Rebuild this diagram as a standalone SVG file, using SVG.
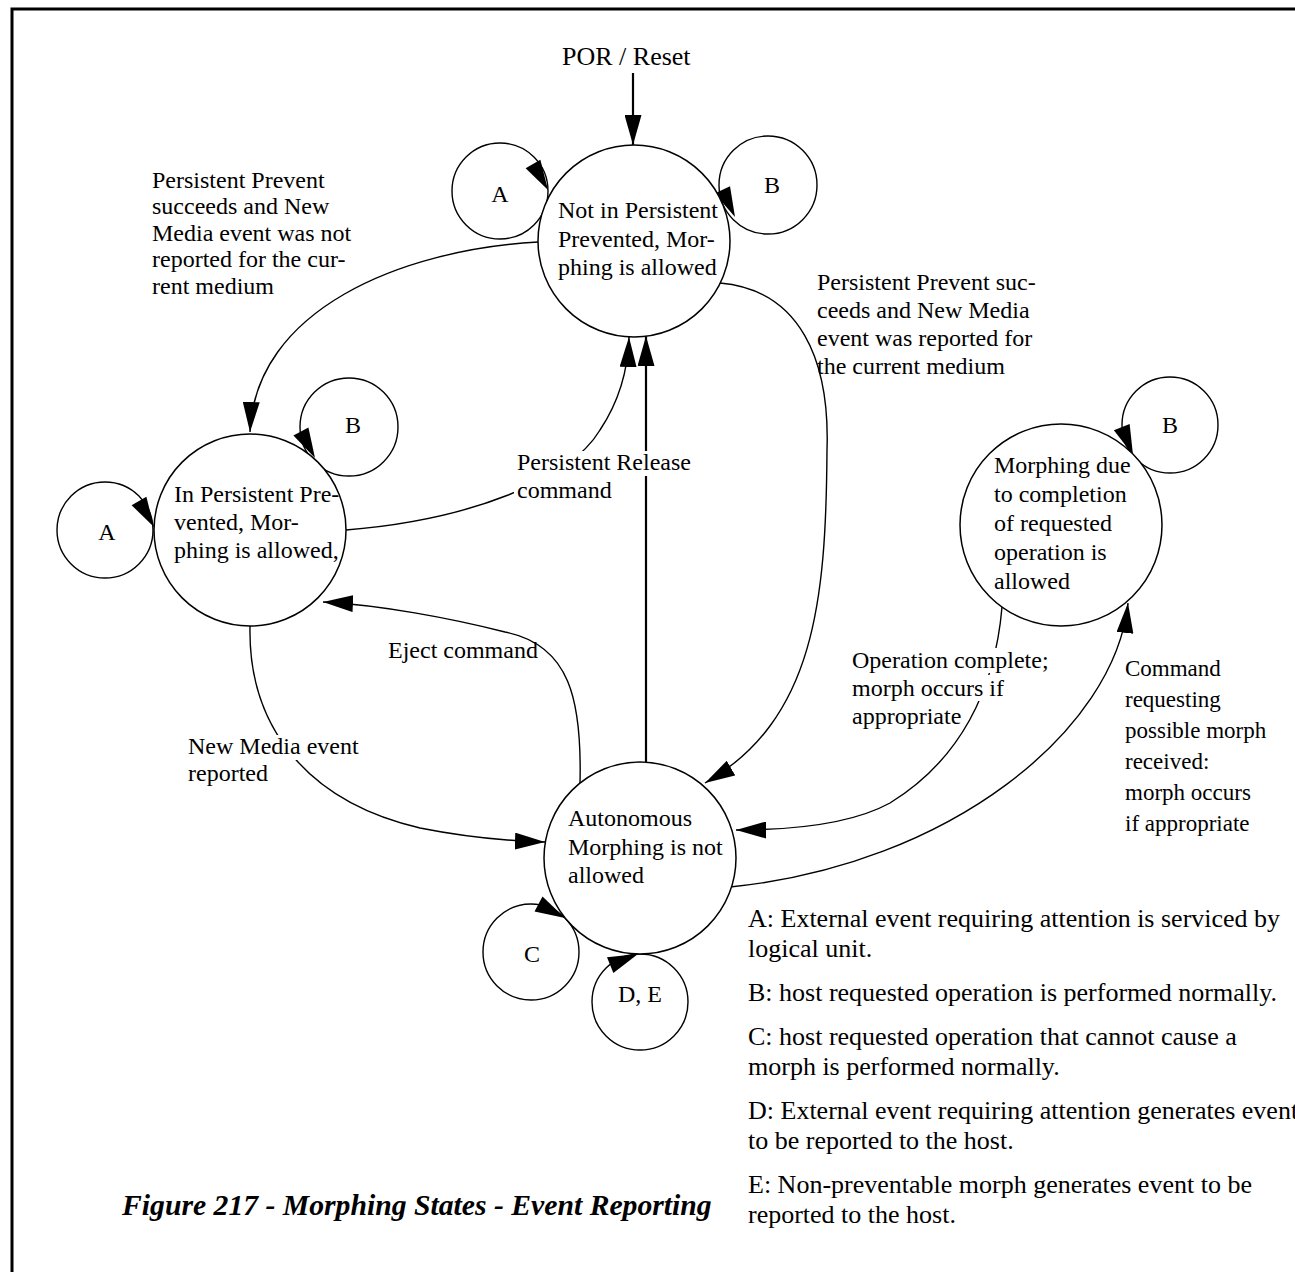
<svg xmlns="http://www.w3.org/2000/svg" xmlns:xlink="http://www.w3.org/1999/xlink" width="1295" height="1272" viewBox="0 0 1295 1272">
<style>
text{font-family:"Liberation Serif","Times New Roman",serif;fill:#000}
.t{font-size:24px}
.cm{font-size:23px}
.lg{font-size:26px}
.cap{font-size:29.7px;font-weight:bold;font-style:italic}
.node{fill:#fff;stroke:#000;stroke-width:1.5}
.loop{fill:none;stroke:#000;stroke-width:1.4}
.c{fill:none;stroke:#000;stroke-width:1.4}
.s{fill:none;stroke:#000;stroke-width:2.2}
.bg{fill:#fff;stroke:none}
</style>
<defs>
<marker id="ah" markerUnits="userSpaceOnUse" markerWidth="30" markerHeight="17" refX="30" refY="8.5" orient="auto" viewBox="0 0 30 17"><path d="M0,0 L30,8.5 L0,17 z" fill="#000"/></marker>
<path id="head" d="M0,0 L-30,-8.5 L-30,8.5 z" fill="#000"/>
</defs>
<rect x="12" y="9" width="1300" height="1280" fill="#fff" stroke="#000" stroke-width="3"/>

<g id="connectors">
  <text class="t" x="562" y="65" style="font-size:26px">POR / Reset</text>
  <line class="s" x1="633" y1="73" x2="633" y2="145" marker-end="url(#ah)"/>
  <path class="c" d="M538,242 C400,250 255,310 250,432" marker-end="url(#ah)"/>
  <path class="c" d="M346,530 C470,520 570,480 600,430 C620,400 628,370 629,337" marker-end="url(#ah)"/>
  <line class="s" x1="646" y1="762" x2="646" y2="336" marker-end="url(#ah)"/>
  <path class="c" d="M720,283 C800,290 830,360 827,450 C826,600 815,720 705,783" marker-end="url(#ah)"/>
  <path class="c" d="M580,783 C582,700 570,645 505,632 C450,618 380,605 323,602" marker-end="url(#ah)"/>
  <path class="c" d="M250,626 C248,720 300,800 420,828 C470,838 510,841 545,842" marker-end="url(#ah)"/>
  <path class="c" d="M1002,607 C995,690 960,760 890,803 C850,825 790,830 736,830" marker-end="url(#ah)"/>
  <path class="c" d="M730,887 C950,865 1115,730 1128,603" marker-end="url(#ah)"/>

  <g id="loop-A1"><circle class="loop" cx="500" cy="191" r="48"/><use xlink:href="#head" transform="translate(548,190) rotate(60)"/><text class="t" x="500" y="202" text-anchor="middle">A</text></g>
  <g id="loop-B1"><circle class="loop" cx="768" cy="185" r="49"/><use xlink:href="#head" transform="translate(735,217) rotate(65)"/><text class="t" x="772" y="193" text-anchor="middle">B</text></g>
  <g id="loop-A2"><circle class="loop" cx="105" cy="530" r="48"/><use xlink:href="#head" transform="translate(154,527) rotate(60)"/><text class="t" x="107" y="540" text-anchor="middle">A</text></g>
  <g id="loop-B2"><circle class="loop" cx="349" cy="427" r="49"/><use xlink:href="#head" transform="translate(315,458) rotate(62)"/><text class="t" x="353" y="433" text-anchor="middle">B</text></g>
  <g id="loop-B4"><circle class="loop" cx="1170" cy="425" r="48"/><use xlink:href="#head" transform="translate(1133,455) rotate(68)"/><text class="t" x="1170" y="433" text-anchor="middle">B</text></g>
  <g id="loop-C"><circle class="loop" cx="531" cy="952" r="48"/><use xlink:href="#head" transform="translate(565,918) rotate(28)"/><text class="t" x="532" y="962" text-anchor="middle">C</text></g>
  <g id="loop-DE"><circle class="loop" cx="640" cy="1002" r="48"/><use xlink:href="#head" transform="translate(638,954) rotate(-22)"/><text class="t" x="640" y="1002" text-anchor="middle">D, E</text></g>

  <g id="lbl-notreported">
    <text class="t" x="152" y="188">Persistent Prevent</text>
    <text class="t" x="152" y="214">succeeds and New</text>
    <text class="t" x="152" y="241">Media event was not</text>
    <text class="t" x="152" y="267">reported for the cur-</text>
    <text class="t" x="152" y="294">rent medium</text>
  </g>
  <g id="lbl-reported">
    <text class="t" x="817" y="290">Persistent Prevent suc-</text>
    <text class="t" x="817" y="318">ceeds and New Media</text>
    <text class="t" x="817" y="346">event was reported for</text>
    <text class="t" x="817" y="374">the current medium</text>
  </g>
  <g id="lbl-release">
    <rect class="bg" x="514" y="451" width="180" height="25"/>
    <rect class="bg" x="514" y="476" width="100" height="27"/>
    <text class="t" x="517" y="470">Persistent Release</text>
    <text class="t" x="517" y="498">command</text>
  </g>
  <g id="lbl-eject">
    <text class="t" x="388" y="658">Eject command</text>
  </g>
  <g id="lbl-newmedia">
    <rect class="bg" x="185" y="735" width="177" height="25"/>
    <rect class="bg" x="185" y="762" width="84" height="26"/>
    <text class="t" x="188" y="754">New Media event</text>
    <text class="t" x="188" y="781">reported</text>
  </g>
  <g id="lbl-opcomplete">
    <rect class="bg" x="849" y="648" width="200" height="25"/>
    <rect class="bg" x="849" y="675" width="156" height="26"/>
    <rect class="bg" x="849" y="702" width="110" height="26"/>
    <text class="t" x="852" y="668">Operation complete;</text>
    <text class="t" x="852" y="696">morph occurs if</text>
    <text class="t" x="852" y="724">appropriate</text>
  </g>
  <g id="lbl-command">
    <text class="cm" x="1125" y="676">Command</text>
    <text class="cm" x="1125" y="707">requesting</text>
    <text class="cm" x="1125" y="738">possible morph</text>
    <text class="cm" x="1125" y="769">received:</text>
    <text class="cm" x="1125" y="800">morph occurs</text>
    <text class="cm" x="1125" y="831">if appropriate</text>
  </g>
</g>

<g id="node-not-prevented">
  <circle class="node" cx="634" cy="241" r="96"/>
  <text class="t" x="558" y="218">Not in Persistent</text>
  <text class="t" x="558" y="247">Prevented, Mor-</text>
  <text class="t" x="558" y="275">phing is allowed</text>
</g>
<g id="node-prevented">
  <circle class="node" cx="250" cy="530" r="96"/>
  <text class="t" x="174" y="502">In Persistent Pre-</text>
  <text class="t" x="174" y="530">vented, Mor-</text>
  <text class="t" x="174" y="558">phing is allowed,</text>
</g>
<g id="node-autonomous">
  <circle class="node" cx="640" cy="858" r="96"/>
  <text class="t" x="568" y="826">Autonomous</text>
  <text class="t" x="568" y="855">Morphing is not</text>
  <text class="t" x="568" y="883">allowed</text>
</g>
<g id="node-completion">
  <circle class="node" cx="1061" cy="525" r="101"/>
  <text class="t" x="994" y="473">Morphing due</text>
  <text class="t" x="994" y="502">to completion</text>
  <text class="t" x="994" y="531">of requested</text>
  <text class="t" x="994" y="560">operation is</text>
  <text class="t" x="994" y="589">allowed</text>
</g>

<g id="legend">
  <text class="lg" x="748" y="927">A: External event requiring attention is serviced by</text>
  <text class="lg" x="748" y="957">logical unit.</text>
  <text class="lg" x="748" y="1001">B: host requested operation is performed normally.</text>
  <text class="lg" x="748" y="1045">C: host requested operation that cannot cause a</text>
  <text class="lg" x="748" y="1075">morph is performed normally.</text>
  <text class="lg" x="748" y="1119">D: External event requiring attention generates event</text>
  <text class="lg" x="748" y="1149">to be reported to the host.</text>
  <text class="lg" x="748" y="1193">E: Non-preventable morph generates event to be</text>
  <text class="lg" x="748" y="1223">reported to the host.</text>
</g>
<text class="cap" x="122" y="1215">Figure 217 - Morphing States - Event Reporting</text>
</svg>
